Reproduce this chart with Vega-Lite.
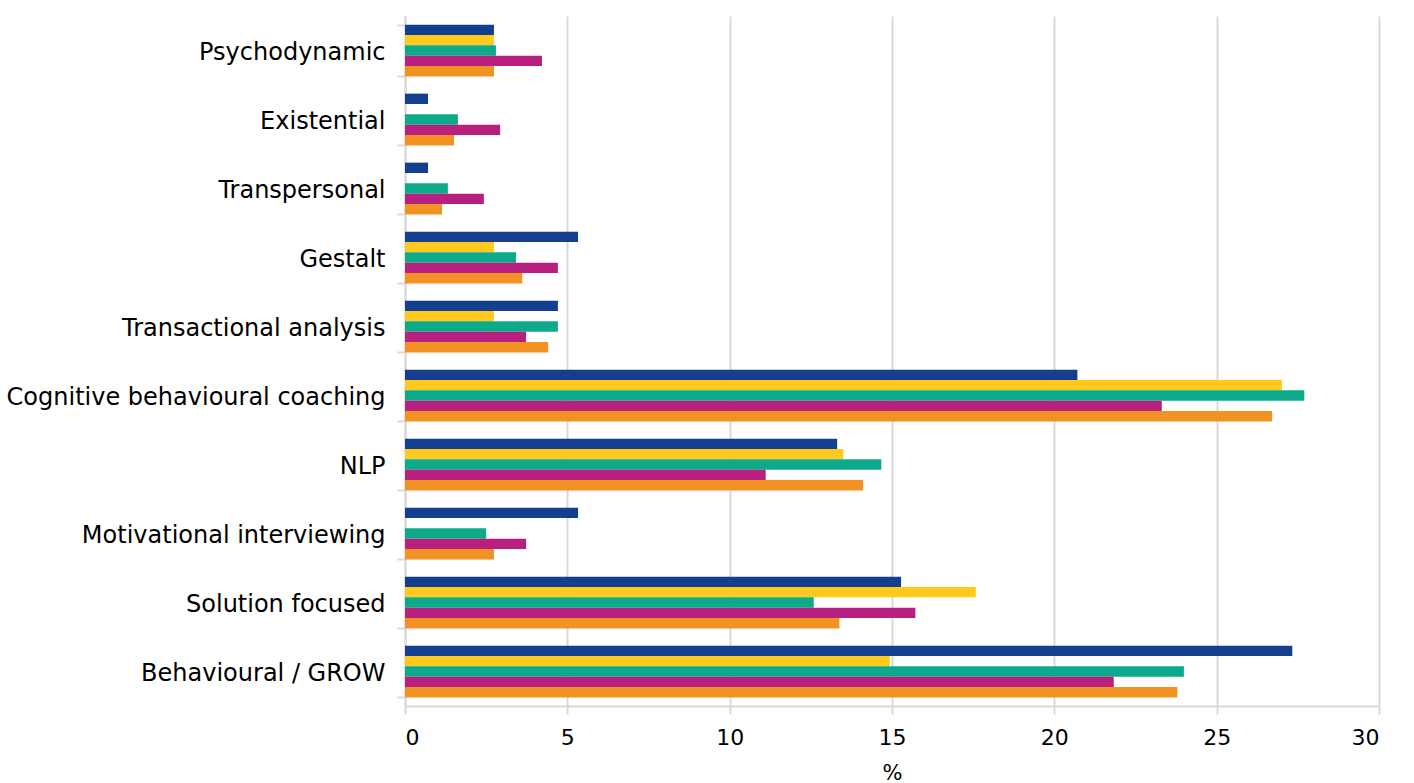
{
  "$schema": "https://vega.github.io/schema/vega-lite/v6.json",
  "width": 974,
  "height": 690,
  "autosize": {"type": "none"},
  "padding": {"left": 405, "top": 16, "right": 35, "bottom": 77},
  "background": "white",
  "config": {
    "view": {"stroke": null},
    "font": "DejaVu Sans"
  },
  "data": {
    "values": [
      {"approach": "Psychodynamic", "series": "S1", "value": 2.74},
      {"approach": "Psychodynamic", "series": "S2", "value": 2.74},
      {"approach": "Psychodynamic", "series": "S3", "value": 2.8},
      {"approach": "Psychodynamic", "series": "S4", "value": 4.22},
      {"approach": "Psychodynamic", "series": "S5", "value": 2.74},
      {"approach": "Existential", "series": "S1", "value": 0.71},
      {"approach": "Existential", "series": "S2", "value": 0},
      {"approach": "Existential", "series": "S3", "value": 1.63},
      {"approach": "Existential", "series": "S4", "value": 2.93},
      {"approach": "Existential", "series": "S5", "value": 1.51},
      {"approach": "Transpersonal", "series": "S1", "value": 0.71},
      {"approach": "Transpersonal", "series": "S2", "value": 0},
      {"approach": "Transpersonal", "series": "S3", "value": 1.32},
      {"approach": "Transpersonal", "series": "S4", "value": 2.43},
      {"approach": "Transpersonal", "series": "S5", "value": 1.14},
      {"approach": "Gestalt", "series": "S1", "value": 5.33},
      {"approach": "Gestalt", "series": "S2", "value": 2.74},
      {"approach": "Gestalt", "series": "S3", "value": 3.42},
      {"approach": "Gestalt", "series": "S4", "value": 4.71},
      {"approach": "Gestalt", "series": "S5", "value": 3.61},
      {"approach": "Transactional analysis", "series": "S1", "value": 4.71},
      {"approach": "Transactional analysis", "series": "S2", "value": 2.74},
      {"approach": "Transactional analysis", "series": "S3", "value": 4.71},
      {"approach": "Transactional analysis", "series": "S4", "value": 3.73},
      {"approach": "Transactional analysis", "series": "S5", "value": 4.41},
      {"approach": "Cognitive behavioural coaching", "series": "S1", "value": 20.71},
      {"approach": "Cognitive behavioural coaching", "series": "S2", "value": 27.01},
      {"approach": "Cognitive behavioural coaching", "series": "S3", "value": 27.7},
      {"approach": "Cognitive behavioural coaching", "series": "S4", "value": 23.31},
      {"approach": "Cognitive behavioural coaching", "series": "S5", "value": 26.71},
      {"approach": "NLP", "series": "S1", "value": 13.31},
      {"approach": "NLP", "series": "S2", "value": 13.5},
      {"approach": "NLP", "series": "S3", "value": 14.67},
      {"approach": "NLP", "series": "S4", "value": 11.11},
      {"approach": "NLP", "series": "S5", "value": 14.11},
      {"approach": "Motivational interviewing", "series": "S1", "value": 5.33},
      {"approach": "Motivational interviewing", "series": "S2", "value": 0},
      {"approach": "Motivational interviewing", "series": "S3", "value": 2.5},
      {"approach": "Motivational interviewing", "series": "S4", "value": 3.73},
      {"approach": "Motivational interviewing", "series": "S5", "value": 2.74},
      {"approach": "Solution focused", "series": "S1", "value": 15.28},
      {"approach": "Solution focused", "series": "S2", "value": 17.58},
      {"approach": "Solution focused", "series": "S3", "value": 12.59},
      {"approach": "Solution focused", "series": "S4", "value": 15.72},
      {"approach": "Solution focused", "series": "S5", "value": 13.38},
      {"approach": "Behavioural / GROW", "series": "S1", "value": 27.33},
      {"approach": "Behavioural / GROW", "series": "S2", "value": 14.93},
      {"approach": "Behavioural / GROW", "series": "S3", "value": 23.99},
      {"approach": "Behavioural / GROW", "series": "S4", "value": 21.83},
      {"approach": "Behavioural / GROW", "series": "S5", "value": 23.79}
    ]
  },
  "mark": {"type": "bar"},
  "encoding": {
    "y": {
      "field": "approach",
      "type": "nominal",
      "sort": ["Psychodynamic", "Existential", "Transpersonal", "Gestalt", "Transactional analysis", "Cognitive behavioural coaching", "NLP", "Motivational interviewing", "Solution focused", "Behavioural / GROW"],
      "scale": {"paddingInner": 0.25, "paddingOuter": 0.125},
      "axis": {
        "title": null,
        "labelFontSize": 24,
        "labelColor": "#000000",
        "labelPadding": 12,
        "labelOffset": 2,
        "labelLimit": 0,
        "tickSize": 8,
        "tickColor": "#D9D9D9",
        "tickWidth": 2,
        "tickBand": "extent",
        "domainColor": "#D9D9D9",
        "domainWidth": 2,
        "grid": false
      }
    },
    "yOffset": {
      "field": "series",
      "type": "nominal",
      "sort": ["S1", "S2", "S3", "S4", "S5"],
      "scale": {"paddingInner": 0, "paddingOuter": 0}
    },
    "x": {
      "field": "value",
      "type": "quantitative",
      "scale": {"domain": [0, 30], "nice": false},
      "axis": {
        "title": "%",
        "titleFontSize": 21,
        "titleFontWeight": "normal",
        "titleColor": "#000000",
        "titlePadding": 14,
        "values": [0, 5, 10, 15, 20, 25, 30],
        "labelFontSize": 22,
        "labelColor": "#000000",
        "labelPadding": 13,
        "tickSize": 8,
        "tickColor": "#D9D9D9",
        "tickWidth": 2,
        "domainColor": "#D9D9D9",
        "domainWidth": 2,
        "grid": true,
        "gridColor": "#D9D9D9",
        "gridWidth": 2
      }
    },
    "color": {
      "field": "series",
      "type": "nominal",
      "sort": ["S1", "S2", "S3", "S4", "S5"],
      "scale": {"domain": ["S1", "S2", "S3", "S4", "S5"], "range": ["#143F8F", "#FFC91E", "#0DAA8A", "#B82080", "#F29222"]},
      "legend": null
    }
  }
}
